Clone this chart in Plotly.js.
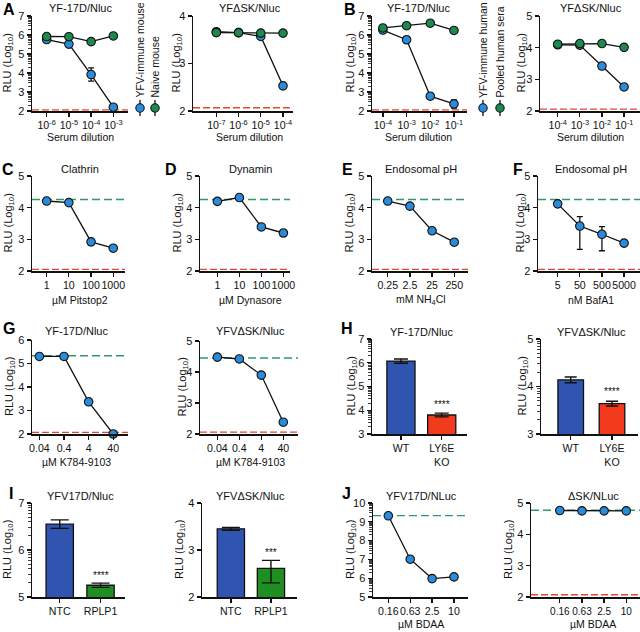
<!DOCTYPE html>
<html><head><meta charset="utf-8">
<script src="https://cdn.plot.ly/plotly-3.0.1.min.js"></script>
<style>html,body{margin:0;padding:0;background:#fff}#chart{width:640px;height:632px}</style>
</head><body><div id="chart"></div>
<script>
// ================= DATA =================
// A
const dilutionA1 = ['10<sup>-6</sup>','10<sup>-5</sup>','10<sup>-4</sup>','10<sup>-3</sup>'];
const aLeftImmune = [5.76, 5.52, 3.92, 2.2];
const aLeftImmuneErr = [0.05, 0.08, 0.35, 0.06];
const aLeftNaive = [5.92, 5.91, 5.65, 5.95];
const aLeftNaiveErr = [0.05, 0.05, 0.06, 0.04];
const dilutionA2 = ['10<sup>-7</sup>','10<sup>-6</sup>','10<sup>-5</sup>','10<sup>-4</sup>'];
const aRightImmune = [3.67, 3.65, 3.57, 2.53];
const aRightNaive = [3.65, 3.65, 3.64, 3.64];
// B
const dilutionB = ['10<sup>-4</sup>','10<sup>-3</sup>','10<sup>-2</sup>','10<sup>-1</sup>'];
const bLeftImmune = [6.26, 5.75, 2.78, 2.37];
const bLeftImmuneErr = [0.04, 0.04, 0.1, 0.22];
const bLeftPooled = [6.37, 6.49, 6.62, 6.24];
const bRightImmune = [4.09, 4.08, 3.42, 2.76];
const bRightPooled = [4.11, 4.13, 4.13, 4.01];
// C-F
const pitstopDose = ['1','10','100','1000'];
const clathrinRLU = [4.21, 4.16, 2.92, 2.72];
const clathrinErr = [0.03, 0.03, 0.1, 0.06];
const dynasoreDose = ['1','10','100','1000'];
const dynaminRLU = [4.2, 4.32, 3.39, 3.2];
const nh4clDose = ['0.25','2.5','25','250'];
const nh4clRLU = [4.21, 4.05, 3.27, 2.91];
const nh4clErr = [0.03, 0.03, 0.06, 0.03];
const bafDose = ['5','50','500','5000'];
const bafRLU = [4.12, 3.42, 3.16, 2.88];
const bafErrPlus = [0.02, 0.3, 0.24, 0.05];
const bafErrMinus = [0.02, 0.74, 0.52, 0.05];
// G
const k784Dose = ['0.04','0.4','4','40'];
const gLeftRLU = [5.3, 5.3, 3.37, 2.0];
const gRightRLU = [4.48, 4.42, 3.9, 2.38];
const gRightErr = [0.02, 0.02, 0.03, 0.08];
// H
const ly6eGroups = ['WT','LY6E<br>KO'];
const hLeftRLU = [6.07, 3.8];
const hLeftErr = [0.09, 0.08];
const hRightRLU = [4.14, 3.64];
const hRightErr = [0.06, 0.05];
// I
const rplpGroups = ['NTC','RPLP1'];
const iLeftRLU = [6.55, 5.25];
const iLeftErr = [0.09, 0.045];
const iRightRLU = [3.45, 2.61];
const iRightErrPlus = [0.03, 0.17];
const iRightErrMinus = [0.03, 0.31];
// J
const bdaaDose = ['0.16','0.63','2.5','10'];
const jLeftRLU = [9.32, 7.01, 5.98, 6.07];
const jRightRLU = [4.76, 4.75, 4.75, 4.75];
// reference lines (control = green dashed, limit of detection = red dashed)
const controlLevels = {C:4.26, D:4.26, E:4.26, F:4.26, G1:5.33, G2:4.45, J1:9.33, J2:4.77};
const lodLevels = {A1:2.06, A2:2.07, B1:2.06, B2:2.06, C:2.05, D:2.05, E:2.05, F:2.05, G1:2.07, G2:2.06, J2:2.07};

// ================= STYLE =================
const W = 640, H = 632;
const FONT = 'Liberation Sans, Arial, sans-serif';
const PT_BLUE = '#2b8bdb', PT_GREEN = '#1c8a4e';
const BAR_BLUE = '#2f55b0', BAR_RED = '#f23a1c', BAR_GREEN = '#1f8f22';
const REF_GREEN = '#2e9a68', REF_RED = '#e4462e';
const RLU = 'RLU (Log<sub>10</sub>)';

const panels = [
 {x0:32,x1:128,y0:16,y1:111,yr:[2,7],xr:[-0.66,3.66],minor:true,cats:dilutionA1,
  series:[{y:aLeftImmune,err:aLeftImmuneErr,c:PT_BLUE},{y:aLeftNaive,err:aLeftNaiveErr,c:PT_GREEN}],
  lod:lodLevels.A1,title:'YF-17D/Nluc',xt:'Serum dilution',ytx:8},
 {x0:193,x1:293,y0:16,y1:111,yr:[2,4],xr:[-1.05,3.45],cats:dilutionA2,
  series:[{y:aRightImmune,c:PT_BLUE},{y:aRightNaive,c:PT_GREEN}],
  lod:lodLevels.A2,title:'YFΔSK/Nluc',xt:'Serum dilution',ytx:177},
 {x0:372,x1:467,y0:16,y1:111,yr:[2,7],xr:[-0.46,3.55],minor:true,cats:dilutionB,
  series:[{y:bLeftImmune,err:bLeftImmuneErr,c:PT_BLUE},{y:bLeftPooled,c:PT_GREEN}],
  lod:lodLevels.B1,title:'YF-17D/Nluc',xt:'Serum dilution',ytx:351},
 {x0:540,x1:640,y0:16,y1:111,yr:[2,5],xr:[-0.8,3.72],cats:dilutionB,
  series:[{y:bRightImmune,c:PT_BLUE},{y:bRightPooled,c:PT_GREEN}],
  lod:lodLevels.B2,title:'YFΔSK/Nluc',xt:'Serum dilution',ytx:522},
 {x0:32,x1:125,y0:176,y1:271,yr:[2,5],xr:[-0.66,3.53],cats:pitstopDose,
  series:[{y:clathrinRLU,err:clathrinErr,c:PT_BLUE}],ctrl:controlLevels.C,lod:lodLevels.C,
  title:'Clathrin',xt:'µM Pitstop2',ytx:8},
 {x0:200,x1:290,y0:176,y1:271,yr:[2,5],xr:[-0.79,3.3],cats:dynasoreDose,
  series:[{y:dynaminRLU,c:PT_BLUE}],ctrl:controlLevels.D,lod:lodLevels.D,
  title:'Dynamin',xt:'µM Dynasore',ytx:177},
 {x0:372,x1:468,y0:176,y1:271,yr:[2,5],xr:[-0.71,3.62],cats:nh4clDose,
  series:[{y:nh4clRLU,err:nh4clErr,c:PT_BLUE}],ctrl:controlLevels.E,lod:lodLevels.E,
  title:'Endosomal pH',xt:'mM NH<sub>4</sub>Cl',ytx:349},
 {x0:538,x1:640,y0:176,y1:271,yr:[2,5],xr:[-0.89,3.72],cats:bafDose,
  series:[{y:bafRLU,err:bafErrPlus,errm:bafErrMinus,c:PT_BLUE}],ctrl:controlLevels.F,lod:lodLevels.F,
  title:'Endosomal pH',xt:'nM BafA1',ytx:520},
 {x0:32,x1:128,y0:340,y1:434,yr:[2,6],xr:[-0.3,3.6],cats:k784Dose,
  series:[{y:gLeftRLU,c:PT_BLUE}],ctrl:controlLevels.G1,lod:lodLevels.G1,
  title:'YF-17D/Nluc',xt:'µM K784-9103',ytx:10},
 {x0:200,x1:298,y0:341,y1:434,yr:[2,5],xr:[-0.79,3.67],cats:k784Dose,
  series:[{y:gRightRLU,err:gRightErr,c:PT_BLUE}],ctrl:controlLevels.G2,lod:lodLevels.G2,
  title:'YFVΔSK/Nluc',xt:'µM K784-9103',ytx:182},
 {x0:372,x1:467,y0:339,y1:434,yr:[3,7],xr:[-0.71,1.62],minor:true,cats:ly6eGroups,
  bars:{y:hLeftRLU,err:hLeftErr,colors:[BAR_BLUE,BAR_RED],w:0.69,cap:7},
  stars:'****',starY:404,title:'YF-17D/Nluc',ytx:351},
 {x0:541,x1:638,y0:339,y1:434,yr:[3,5],xr:[-0.72,1.63],minor:true,cats:ly6eGroups,
  bars:{y:hRightRLU,err:hRightErr,colors:[BAR_BLUE,BAR_RED],w:0.62,cap:6},
  stars:'****',starY:391,title:'YFVΔSK/Nluc',ytx:522},
 {x0:32,x1:125,y0:503,y1:597,yr:[5,7],xr:[-0.68,1.6],minor:true,cats:rplpGroups,
  bars:{y:iLeftRLU,err:iLeftErr,colors:[BAR_BLUE,BAR_GREEN],w:0.67,cap:9},
  stars:'****',starY:575,title:'YFV17D/Nluc',ytx:8},
 {x0:202,x1:297,y0:503,y1:597,yr:[2,4],xr:[-0.72,1.65],cats:rplpGroups,
  bars:{y:iRightRLU,err:iRightErrPlus,errm:iRightErrMinus,colors:[BAR_BLUE,BAR_GREEN],w:0.68,cap:9},
  stars:'***',starY:552,title:'YFVΔSK/Nluc',ytx:180},
 {x0:373,x1:468,y0:503,y1:597,yr:[5,10],xr:[-0.7,3.64],minor:true,cats:bdaaDose,
  series:[{y:jLeftRLU,c:PT_BLUE}],ctrl:controlLevels.J1,
  title:'YFV17D/NLuc',xt:'µM BDAA',ytx:351},
 {x0:531,x1:640,y0:503,y1:597,yr:[2,5],xr:[-1.3,3.62],cats:bdaaDose,xtf:10,
  series:[{y:jRightRLU,c:PT_BLUE}],ctrl:controlLevels.J2,lod:lodLevels.J2,
  title:'ΔSK/NLuc',xt:'µM BDAA',ytx:509}
];
const rowTitleY = {16:8, 176:169, 340:331, 341:331, 339:332, 503:496};
const rowXTitleY = {16:137, 176:300, 340:462, 341:462, 503:624};

const data = [];
const layout = {
  width: W, height: H, margin:{l:0,r:0,t:0,b:0},
  paper_bgcolor:'#fff', plot_bgcolor:'rgba(0,0,0,0)',
  font:{family:FONT, size:11, color:'#111'},
  showlegend:false, annotations:[], shapes:[]
};
const fx = p => p / W, fy = p => 1 - p / H;
function ann(x, y, text, extra) {
  layout.annotations.push(Object.assign({xref:'paper', yref:'paper', x:fx(x), y:fy(y), text:text,
    showarrow:false, xanchor:'center', yanchor:'middle', font:{family:FONT, size:11, color:'#111'}}, extra||{}));
}

panels.forEach((p, i) => {
  const n = i + 1;
  const xa = n === 1 ? 'x' : 'x' + n, ya = n === 1 ? 'y' : 'y' + n;
  const xk = n === 1 ? 'xaxis' : 'xaxis' + n, yk = n === 1 ? 'yaxis' : 'yaxis' + n;
  layout[xk] = {domain:[fx(p.x0), fx(p.x1)], anchor:ya, type:'category', range:p.xr,
    tickmode:'array', tickvals:p.cats, ticktext:p.cats, tickangle:0,
    showline:true, linewidth:1.5, linecolor:'#111', ticks:'outside', ticklen:4, tickwidth:1.3, tickcolor:'#111',
    tickfont:{family:FONT, size:p.xtf || 10.6, color:'#111'}, showgrid:false, zeroline:false, fixedrange:true};
  const yax = {domain:[fy(p.y1), fy(p.y0)], anchor:xa, range:p.yr, tick0:0, dtick:1,
    showline:true, linewidth:1.5, linecolor:'#111', ticks:'outside', ticklen:4, tickwidth:1.3, tickcolor:'#111',
    tickfont:{family:FONT, size:11, color:'#111'}, showgrid:false, zeroline:false, fixedrange:true};
  if (p.minor) {
    const mv = [];
    for (let d = p.yr[0]; d < p.yr[1]; d++) for (let k = 2; k <= 9; k++) mv.push(d + Math.log10(k));
    yax.minor = {tickmode:'array', tickvals:mv, ticks:'outside', ticklen:2.5, tickwidth:0.8, tickcolor:'#111', showgrid:false};
  }
  layout[yk] = yax;

  if (p.ctrl !== undefined) layout.shapes.push({type:'line', layer:'below', xref:xa + ' domain', yref:ya, x0:0, x1:1, y0:p.ctrl, y1:p.ctrl,
    line:{color:REF_GREEN, width:1.4, dash:'8px,4px'}});
  if (p.lod !== undefined) layout.shapes.push({type:'line', layer:'below', xref:xa + ' domain', yref:ya, x0:0, x1:1, y0:p.lod, y1:p.lod,
    line:{color:REF_RED, width:1.4, dash:'7px,3px'}});

  if (p.series) p.series.forEach(s => {
    const t = {type:'scatter', mode:'lines+markers', x:p.cats, y:s.y, xaxis:xa, yaxis:ya, cliponaxis:false, hoverinfo:'skip',
      line:{color:'#111', width:1.3}, marker:{size:8.5, color:s.c, line:{color:'#111', width:1.1}}};
    if (s.err) t.error_y = {type:'data', array:s.err, arrayminus:s.errm || s.err, symmetric:!s.errm, color:'#111', thickness:1.3, width:3};
    data.push(t);
  });
  if (p.bars) {
    const b = p.bars;
    data.push({type:'bar', x:p.cats, y:b.y, xaxis:xa, yaxis:ya, width:b.w, hoverinfo:'skip',
      marker:{color:b.colors, line:{color:'#111', width:1.3}},
      error_y:{type:'data', array:b.err, arrayminus:b.errm || b.err, symmetric:!b.errm, color:'#111', thickness:1.4, width:b.cap}});
  }

  const span = p.xr[1] - p.xr[0];
  const cx = v => p.x0 + (v - p.xr[0]) / span * (p.x1 - p.x0);
  const mid = cx((p.cats.length - 1) / 2);
  ann(mid, rowTitleY[p.y0], p.title, {font:{family:FONT, size:11, color:'#111'}});
  if (p.xt) ann(mid, rowXTitleY[p.y0], p.xt, {font:{family:FONT, size:10.5, color:'#111'}});
  ann(p.ytx, (p.y0 + p.y1) / 2, RLU, {textangle:-90, font:{family:FONT, size:11, color:'#111'}});
  if (p.stars) ann(cx(1), p.starY, p.stars, {font:{family:FONT, size:10, color:'#111'}});
});

// panel letters
[['A',9,10],['B',350,10],['C',8,169],['D',171,169],['E',347,169],['F',518,169],
 ['G',9,328],['H',347,328],['I',11,494],['J',346,494]].forEach(l =>
  ann(l[1], l[2], '<b>' + l[0] + '</b>', {font:{family:FONT, size:16, color:'#000'}}));

// vertical legends for A and B
const legendItems = [
  {text:'YFV-immune mouse', x:140, c:PT_BLUE},
  {text:'Naive mouse', x:155, c:PT_GREEN},
  {text:'YFV-immune human', x:483, c:PT_BLUE},
  {text:'Pooled human sera', x:500, c:PT_GREEN}
];
legendItems.forEach(l => {
  ann(l.x, 100, l.text, {textangle:-90, yanchor:'bottom', font:{family:FONT, size:10.5, color:'#111'}});
  layout.shapes.push({type:'line', xref:'paper', yref:'paper', x0:fx(l.x), x1:fx(l.x), y0:fy(100), y1:fy(116), line:{color:'#111', width:1.3}});
  layout.shapes.push({type:'circle', xref:'paper', yref:'paper', x0:fx(l.x - 4.2), x1:fx(l.x + 4.2), y0:fy(112.2), y1:fy(103.8),
    fillcolor:l.c, line:{color:'#111', width:1.1}});
});

Plotly.newPlot('chart', data, layout, {staticPlot:true, displayModeBar:false});
</script>
</body></html>
